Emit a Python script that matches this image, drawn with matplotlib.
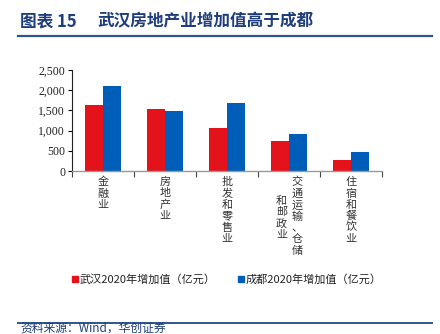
import numpy as np
import matplotlib
matplotlib.use("Agg")
import matplotlib.pyplot as plt
from matplotlib.patches import Rectangle
from matplotlib.lines import Line2D
from matplotlib.ticker import FuncFormatter

plt.rcParams["font.family"] = ["Noto Sans CJK SC", "DejaVu Sans"]

# ── data ──────────────────────────────────────────────────────────────────────
categories = ["金融业", "房地产业", "批发和零售业", "交通运输、仓储|和邮政业", "住宿和餐饮业"]
wuhan = [1630, 1535, 1065, 745, 270]
chengdu = [2115, 1495, 1685, 905, 460]
yticks = [0, 500, 1000, 1500, 2000, 2500]
series_names = ["武汉2020年增加值（亿元）", "成都2020年增加值（亿元）"]

RED = "#E3121B"
BLUE = "#005EB8"
NAVY = "#1F3D7A"
LINE = "#2E548F"

fig = plt.figure(figsize=(4.4, 3.34), dpi=100)
fig.patch.set_facecolor("white")

# ── header / footer ───────────────────────────────────────────────────────────
fig.text(20 / 440, 1 - 21 / 334, "图表 15", fontsize=12, fontweight="bold",
         color=NAVY, va="center", ha="left")
fig.text(97 / 440, 1 - 21 / 334, "武汉房地产业增加值高于成都", fontsize=12,
         fontweight="bold", color=NAVY, va="center", ha="left")
fig.add_artist(Line2D([18 / 440, 432 / 440], [1 - 35.5 / 334] * 2,
                      color=LINE, linewidth=1.6))
fig.add_artist(Line2D([18 / 440, 432 / 440], [1 - 323 / 334] * 2,
                      color=LINE, linewidth=1.4))
fig.text(20 / 440, 1 - 328.5 / 334, "资料来源：Wind，华创证券", fontsize=8.5,
         color=NAVY, style="italic", va="center", ha="left")

# ── bars ──────────────────────────────────────────────────────────────────────
ax = fig.add_axes([72 / 440, 1 - 171 / 334, 310 / 440, 101 / 334])
x = np.arange(len(categories))
w = 0.29
ax.bar(x - w / 2, wuhan, width=w, color=RED, zorder=2)
ax.bar(x + w / 2, chengdu, width=w, color=BLUE, zorder=2)

ax.set_xlim(-0.5, len(categories) - 0.5)
ax.set_ylim(0, 2500)
ax.set_yticks(yticks)
ax.yaxis.set_major_formatter(FuncFormatter(lambda v, p: f"{int(v):,}"))
for lab in ax.get_yticklabels():
    lab.set_family("Liberation Serif")
    lab.set_fontsize(8.5)
    lab.set_color("#222222")
ax.tick_params(axis="y", direction="out", length=3, width=0.8, pad=2)

ax.set_xticks(np.arange(len(categories) + 1) - 0.5)
ax.set_xticklabels([])
ax.tick_params(axis="x", direction="out", length=4, width=0.8, color="#444444")

for s in ["top", "right"]:
    ax.spines[s].set_visible(False)
ax.spines["left"].set_color("#222222")
ax.spines["left"].set_linewidth(0.8)
ax.spines["bottom"].set_color("#999999")
ax.spines["bottom"].set_linewidth(1.0)

# vertical category labels (stacked characters)
lab_kw = dict(transform=ax.get_xaxis_transform(), ha="center", va="top",
              fontsize=8, color="#333333", linespacing=1.15)
for i, cat in enumerate(categories):
    cols = cat.split("|")
    if len(cols) == 1:
        ax.text(i, -0.06, "\n".join(cols[0]), **lab_kw)
    else:
        ax.text(i + 0.13, -0.06, "\n".join(cols[0]), **lab_kw)
        ax.text(i - 0.12, -0.25, "\n".join(cols[1]), **lab_kw)

# ── legend ────────────────────────────────────────────────────────────────────
for xs, col, name in [(72, RED, series_names[0]), (238, BLUE, series_names[1])]:
    fig.add_artist(Rectangle((xs / 440, 1 - 282 / 334), 6 / 440, 6 / 334,
                             color=col, transform=fig.transFigure))
    fig.text((xs + 8) / 440, 1 - 279 / 334, name, fontsize=8, color="#222222",
             va="center", ha="left")

fig.savefig("out.png", dpi=100, facecolor="white")
